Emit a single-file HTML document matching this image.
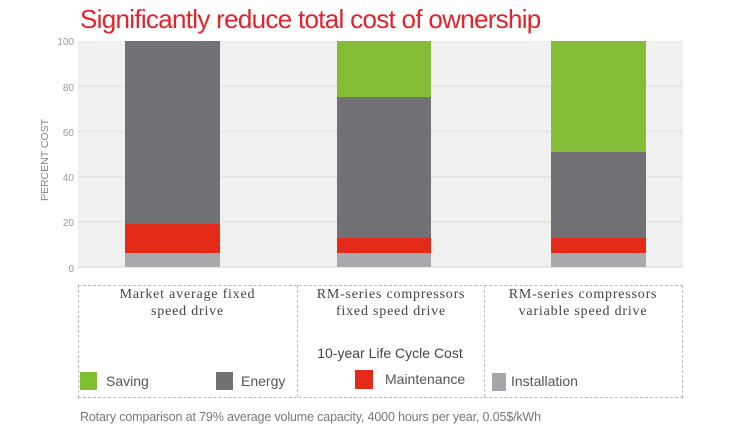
<!DOCTYPE html>
<html><head><meta charset="utf-8"><style>
body{margin:0;width:750px;height:439px;background:#fff;position:relative;overflow:hidden;font-family:"Liberation Sans",sans-serif}
.a{position:absolute}
.t{font-family:"Liberation Serif",serif;color:#444;font-size:14px;letter-spacing:0.8px;text-align:center;line-height:17px;white-space:nowrap}
.sq{position:absolute;width:17px;height:18px}
.lg{position:absolute;font-size:14px;color:#555}
</style></head><body>
<div class="a" style="left:80px;top:4px;font-size:26px;color:#e8202a;letter-spacing:-0.7px">Significantly reduce total cost of ownership</div>
<svg class="a" style="left:0;top:0" width="750" height="290">
<rect x="78" y="41" width="605" height="227" fill="#f0f0f0"/>
<g stroke="#e3e3e3" stroke-width="1.5">
<line x1="78" x2="683" y1="86.2" y2="86.2"/><line x1="78" x2="683" y1="131.4" y2="131.4"/>
<line x1="78" x2="683" y1="176.6" y2="176.6"/><line x1="78" x2="683" y1="221.8" y2="221.8"/>
<line x1="78" x2="683" y1="267" y2="267"/></g>
<g font-size="10" fill="#999" text-anchor="end" font-family="Liberation Sans">
<text x="74" y="45">100</text><text x="74" y="91">80</text><text x="74" y="136">60</text><text x="74" y="181">40</text><text x="74" y="226">20</text><text x="74" y="272">0</text></g>
<text transform="translate(48,160) rotate(-90)" font-size="10.5" fill="#888" text-anchor="middle">PERCENT COST</text>
<rect x="125" y="41" width="95" height="183" fill="#717176"/>
<rect x="125" y="224" width="95" height="29" fill="#e42b1a"/>
<rect x="125" y="253" width="95" height="14" fill="#a9a9ad"/>
<rect x="337" y="41" width="94" height="56" fill="#85bd36"/>
<rect x="337" y="97" width="94" height="141" fill="#717176"/>
<rect x="337" y="238" width="94" height="15" fill="#e42b1a"/>
<rect x="337" y="253" width="94" height="14" fill="#a9a9ad"/>
<rect x="551" y="41" width="95" height="111" fill="#85bd36"/>
<rect x="551" y="152" width="95" height="86" fill="#717176"/>
<rect x="551" y="238" width="95" height="15" fill="#e42b1a"/>
<rect x="551" y="253" width="95" height="14" fill="#a9a9ad"/>
</svg>
<div class="a" style="left:78px;top:285px;width:603px;height:111px;border:1px dashed #bbb"></div>
<div class="a" style="left:297px;top:285px;height:112px;border-left:1px dashed #bbb"></div>
<div class="a" style="left:484px;top:285px;height:112px;border-left:1px dashed #bbb"></div>
<div class="a t" style="left:78px;top:286px;width:219px">Market average fixed<br>speed drive</div>
<div class="a t" style="left:298px;top:286px;width:186px">RM-series compressors<br>fixed speed drive</div>
<div class="a t" style="left:485px;top:286px;width:196px">RM-series compressors<br>variable speed drive</div>
<div class="a" style="left:290px;top:345px;width:200px;font-size:14px;color:#444;text-align:center">10-year Life Cycle Cost</div>
<div class="sq" style="left:80px;top:372px;background:#7dc032"></div><div class="lg" style="left:106px;top:373px">Saving</div>
<div class="sq" style="left:216px;top:372px;background:#707070"></div><div class="lg" style="left:241px;top:373px">Energy</div>
<div class="sq" style="left:355px;top:370px;width:18px;height:19px;background:#e42b1a"></div>
<div class="lg" style="left:385px;top:371px">Maintenance</div>
<div class="sq" style="left:492px;top:373px;width:14px;background:#a6a6aa"></div><div class="lg" style="left:511px;top:373px">Installation</div>
<div class="a" style="left:80px;top:410px;font-size:12.5px;color:#777;letter-spacing:-0.15px">Rotary comparison at 79% average volume capacity, 4000 hours per year, 0.05$/kWh</div>
</body></html>
